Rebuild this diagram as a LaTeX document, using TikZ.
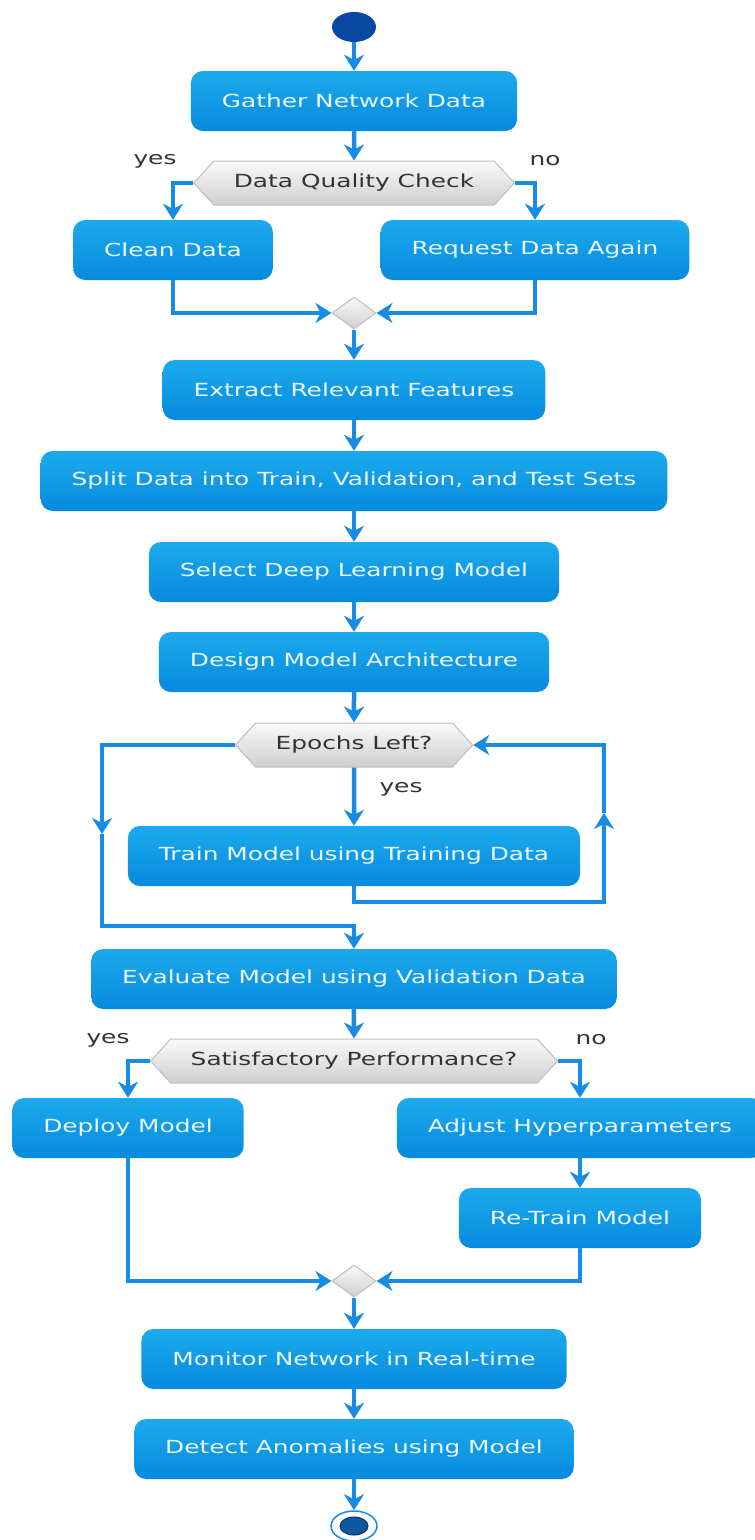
\documentclass[tikz,border=0pt]{standalone}
\usepackage{fontspec}
\setmainfont{DejaVu Sans}[FakeStretch=1.38]
\usepackage{tikz}
\usetikzlibrary{arrows.meta,shapes.geometric,shapes.symbols}
\definecolor{flowblue}{RGB}{24,140,228}
\definecolor{boxtop}{RGB}{28,170,236}
\definecolor{boxbot}{RGB}{6,138,222}
\definecolor{boxtext}{RGB}{236,248,255}
\definecolor{hextop}{RGB}{250,250,250}
\definecolor{hexbot}{RGB}{206,206,206}
\definecolor{hexline}{RGB}{190,190,190}
\definecolor{labelgray}{RGB}{51,51,51}
\definecolor{startblue}{RGB}{8,72,160}
\definecolor{enddark}{RGB}{14,88,158}

\begin{document}
\begin{tikzpicture}[x=1pt,y=-1pt,
  flow/.style={-{Stealth[length=16pt 0 0,width=20pt 0 0,inset=5pt 0]},draw=flowblue,line width=4.5pt},
  box/.style={rectangle,rounded corners=12pt,top color=boxtop,bottom color=boxbot,draw=none,text=boxtext,minimum height=60pt,inner xsep=31pt,font=\fontsize{18}{21}\selectfont},
  hexa/.style={signal,signal to=east and west,signal pointer angle=95,top color=hextop,bottom color=hexbot,draw=hexline,line width=1pt,text=labelgray,minimum height=44pt,inner xsep=20pt,font=\fontsize{18}{21}\selectfont},
  merge/.style={diamond,minimum width=44pt,minimum height=32pt,inner sep=0pt,top color=hextop,bottom color=hexbot,draw=hexline,line width=1pt},
  lbl/.style={text=labelgray,font=\fontsize{18}{21}\selectfont}]
\useasboundingbox (0,0) rectangle (755,1540);
\node[ellipse,fill=startblue,minimum width=44pt,minimum height=30pt,inner sep=0pt] (start) at (354,27) {};
\node[box] (gather) at (354,101) {Gather Network Data};
\node[hexa] (quality) at (354,183) {Data Quality Check};
\node[box] (clean) at (173,250) {Clean Data};
\node[box] (request) at (535,250) {Request Data Again};
\node[merge] (mergeA) at (354,313) {};
\node[box] (extract) at (354,390) {Extract Relevant Features};
\node[box] (split) at (354,481) {Split Data into Train, Validation, and Test Sets};
\node[box] (select) at (354,572) {Select Deep Learning Model};
\node[box] (design) at (354,662) {Design Model Architecture};
\node[hexa] (epochs) at (354,745) {Epochs Left?};
\node[box] (train) at (354,856) {Train Model using Training Data};
\node[box] (evaluate) at (354,979) {Evaluate Model using Validation Data};
\node[hexa] (perf) at (354,1061) {Satisfactory Performance?};
\node[box] (deploy) at (128,1128) {Deploy Model};
\node[box] (adjust) at (580,1128) {Adjust Hyperparameters};
\node[box] (retrain) at (580,1218) {Re-Train Model};
\node[merge] (mergeB) at (354,1281) {};
\node[box] (monitor) at (354,1359) {Monitor Network in Real-time};
\node[box] (detect) at (354,1449) {Detect Anomalies using Model};
\node[ellipse,draw=flowblue,line width=1.5pt,fill=white,minimum width=46pt,minimum height=30pt,inner sep=0pt,
  path picture={\fill[enddark,draw={rgb,255:red,8;green,50;blue,100},line width=1pt] (path picture bounding box.center) ellipse (14pt and 9pt);}] (stop) at (354,1526) {};
\node[lbl] (yesA) at (155,161) {yes};
\node[lbl] (noA) at (545,161) {no};
\node[lbl] (yesB) at (401,789) {yes};
\node[lbl] (yesC) at (108,1040) {yes};
\node[lbl] (noC) at (591,1040) {no};
\coordinate (loopL) at (102,834);
\coordinate (loopB) at (354,926);
\coordinate (loopRb) at (604,902);
\coordinate (loopRm) at (604,813);
\draw[flow] (start) -- (gather);
\draw[flow] (gather) -- (quality);
\draw[flow] (quality.west) -| (clean.north);
\draw[flow] (quality.east) -| (request.north);
\draw[flow] (clean.south) |- (mergeA.west);
\draw[flow] (request.south) |- (mergeA.east);
\draw[flow] (mergeA) -- (extract);
\draw[flow] (extract) -- (split);
\draw[flow] (split) -- (select);
\draw[flow] (select) -- (design);
\draw[flow] (design) -- (epochs);
\draw[flow] (epochs) -- (train);
\draw[flow] (epochs.west) -| (loopL);
\draw[flow] (loopL) |- (loopB) -- (evaluate.north);
\draw[flow] (train.south) |- (loopRb) -- (loopRm);
\draw[flow] (loopRm) |- (epochs.east);
\draw[flow] (evaluate) -- (perf);
\draw[flow] (perf.west) -| (deploy.north);
\draw[flow] (perf.east) -| (adjust.north);
\draw[flow] (adjust) -- (retrain);
\draw[flow] (deploy.south) |- (mergeB.west);
\draw[flow] (retrain.south) |- (mergeB.east);
\draw[flow] (mergeB) -- (monitor);
\draw[flow] (monitor) -- (detect);
\draw[flow] (detect) -- (stop);
\end{tikzpicture}
\end{document}
